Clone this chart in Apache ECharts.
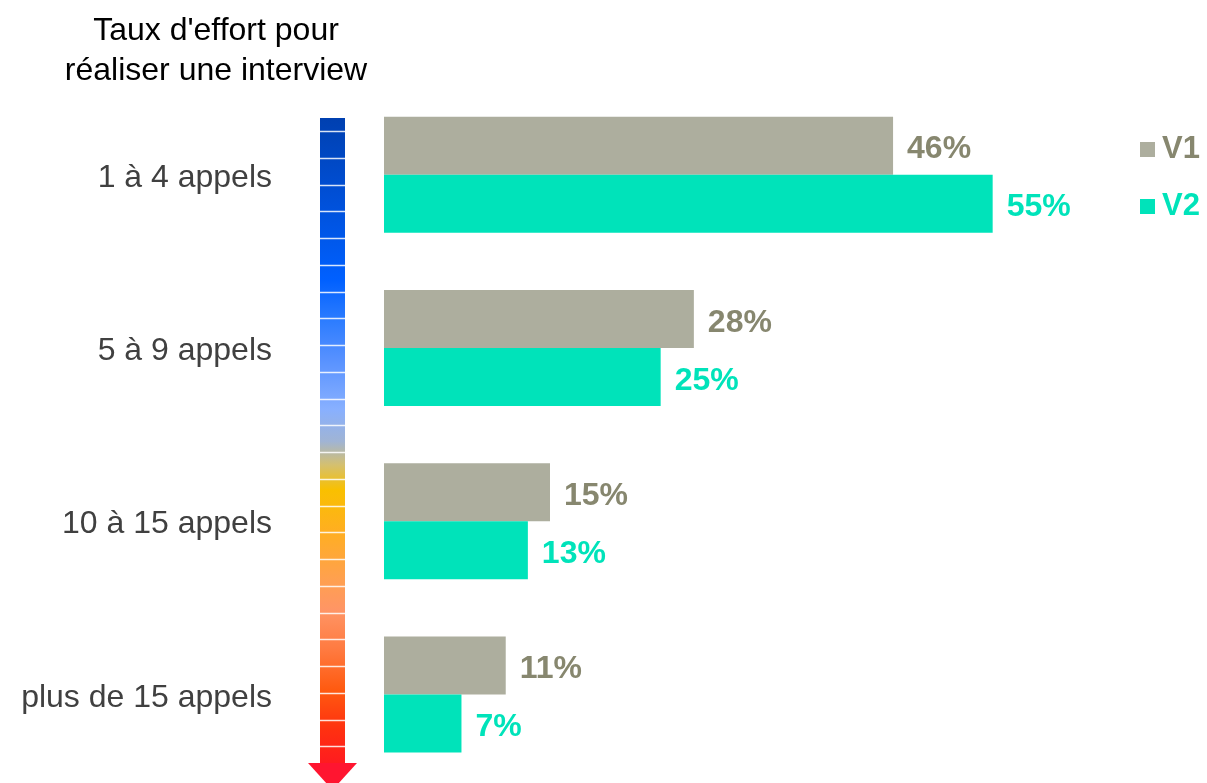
<!DOCTYPE html>
<html>
<head>
<meta charset="utf-8">
<script src="https://cdn.jsdelivr.net/npm/echarts@6/dist/echarts.min.js"></script>
<style>
html,body{margin:0;padding:0;background:#fff;}
#chart{width:1207px;height:783px;}
</style>
</head>
<body>
<div id="chart"></div>
<script>
const categories = ['1 à 4 appels', '5 à 9 appels', '10 à 15 appels', 'plus de 15 appels'];
const seriesNames = ['V1', 'V2'];
const v1Values = [46, 28, 15, 11];
const v2Values = [55, 25, 13, 7];
const titleLines = ["Taux d'effort pour", 'réaliser une interview'];

const FONT = '"Liberation Sans", Arial, sans-serif';
const C_V1 = '#ADAE9E', C_V2 = '#00E3BA';
const L_V1 = '#87876F', L_V2 = '#00E3BA';

// decorative gradient arrow
const arrowTop = 118, arrowBottom = 765, arrowX = 320, arrowW = 25;
const sepLines = [];
for (let y = 131; y <= 750; y += 26.75) {
  sepLines.push({
    type: 'line', silent: true,
    shape: {x1: arrowX, y1: Math.round(y) + 0.5, x2: arrowX + arrowW, y2: Math.round(y) + 0.5},
    style: {stroke: 'rgba(255,255,255,0.85)', lineWidth: 1.5}, z: 10
  });
}
const arrowGrad = new echarts.graphic.LinearGradient(0, 0, 0, 1, [
  {offset: 0, color: '#0040B0'},
  {offset: 0.127, color: '#0050D8'},
  {offset: 0.25, color: '#0060FF'},
  {offset: 0.31, color: '#2A7BFF'},
  {offset: 0.37, color: '#5590FF'},
  {offset: 0.45, color: '#88B0FF'},
  {offset: 0.5, color: '#A0B4D4'},
  {offset: 0.536, color: '#D4C070'},
  {offset: 0.575, color: '#F9C000'},
  {offset: 0.637, color: '#FFAF20'},
  {offset: 0.714, color: '#FFA050'},
  {offset: 0.76, color: '#FF9565'},
  {offset: 0.822, color: '#FF7A40'},
  {offset: 0.884, color: '#FF5A10'},
  {offset: 0.946, color: '#FF3010'},
  {offset: 1, color: '#FF1A20'}
]);

const chart = echarts.init(document.getElementById('chart'), null, {renderer: 'canvas'});
const option = {
  animation: false,
  backgroundColor: '#fff',
  textStyle: {fontFamily: FONT},
  title: {
    text: titleLines.join('\n'),
    left: 211, top: 6, textAlign: 'center',
    textStyle: {fontFamily: FONT, fontSize: 32, fontWeight: 'normal', color: '#000', lineHeight: 40}
  },
  legend: {
    orient: 'vertical', left: 1135, top: 129,
    itemWidth: 15, itemHeight: 15, itemGap: 26, icon: 'rect',
    textStyle: {fontFamily: FONT, fontSize: 31, fontWeight: 'bold', padding: [0, 0, 0, 2]},
    data: [
      {name: seriesNames[0], textStyle: {color: L_V1}},
      {name: seriesNames[1], textStyle: {color: L_V2}}
    ]
  },
  grid: {left: 384, right: 159, top: 88, bottom: 2, containLabel: false},
  xAxis: {type: 'value', min: 0, max: 60, show: false},
  yAxis: {
    type: 'category', data: categories, inverse: true,
    axisLine: {show: false}, axisTick: {show: false}, splitLine: {show: false},
    axisLabel: {
      margin: 112, fontSize: 32, color: '#404040', fontFamily: FONT,
      formatter: function (v) { return '{a|' + v + '}'; },
      rich: {a: {fontSize: 32, color: '#404040', fontFamily: FONT, padding: [7, 0, 0, 0]}}
    }
  },
  series: [
    {
      name: seriesNames[0], type: 'bar', data: v1Values, barWidth: 58, barGap: '0%',
      itemStyle: {color: C_V1},
      label: {show: true, position: 'right', distance: 15, offset: [-1, 4], formatter: '{c}%',
        fontFamily: FONT, fontSize: 32, fontWeight: 'bold', color: L_V1}
    },
    {
      name: seriesNames[1], type: 'bar', data: v2Values, barWidth: 58, barGap: '0%',
      itemStyle: {color: C_V2},
      label: {show: true, position: 'right', distance: 15, offset: [-1, 4], formatter: '{c}%',
        fontFamily: FONT, fontSize: 32, fontWeight: 'bold', color: L_V2}
    }
  ],
  graphic: [
    {type: 'rect', silent: true, shape: {x: arrowX, y: arrowTop, width: arrowW, height: arrowBottom - arrowTop},
      style: {fill: arrowGrad}, z: 5},
    {type: 'polygon', silent: true, shape: {points: [[308, 763], [357, 763], [332.5, 790]]},
      style: {fill: '#FF1530'}, z: 5}
  ].concat(sepLines)
};
chart.setOption(option);
</script>
</body>
</html>
